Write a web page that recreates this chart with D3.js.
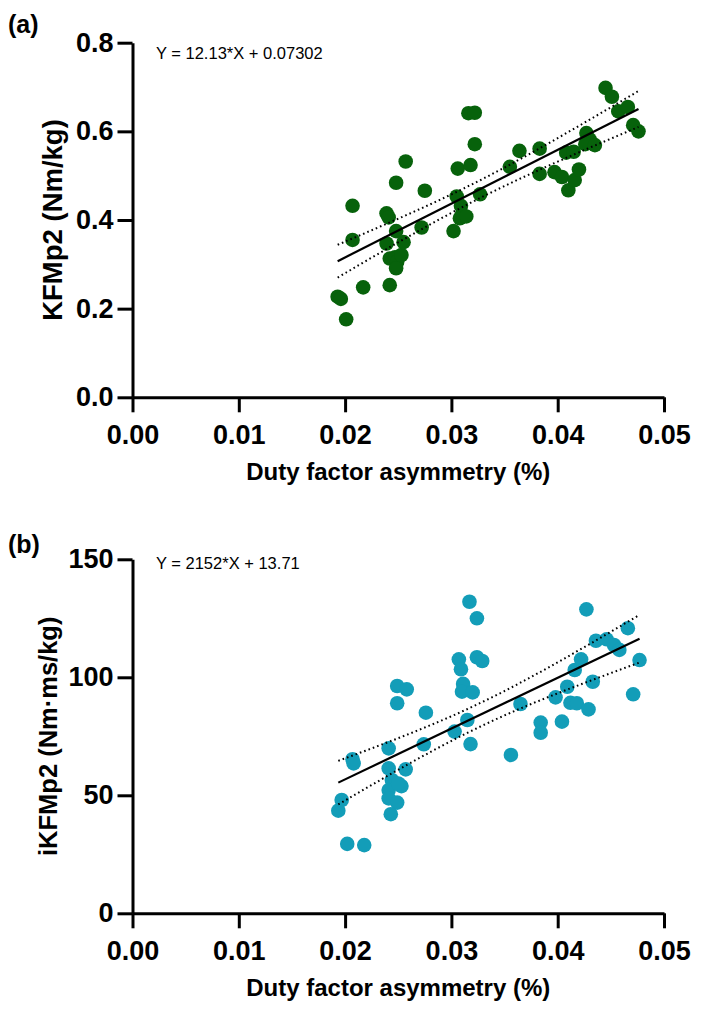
<!DOCTYPE html>
<html><head><meta charset="utf-8">
<script src="https://cdn.jsdelivr.net/npm/d3@7"></script>
<style>
html,body{margin:0;padding:0;background:#fff;}
svg{display:block;}
text{font-family:"Liberation Sans",Arial,sans-serif;}
</style></head>
<body>
<svg id="c" width="705" height="1012"></svg>
<script>
// ---- data ----
const xTicks = [0, 0.01, 0.02, 0.03, 0.04, 0.05];
const yTicksA = [0, 0.2, 0.4, 0.6, 0.8];
const yTicksB = [0, 50, 100, 150];

const xA = [0.0193,0.0196,0.0201,0.0207,0.0207,0.0217,0.0239,0.0241,0.0239,0.0242,0.0242,0.0248,0.0248,0.0247,0.0249,0.0248,0.0253,0.0255,0.0257,0.0275,0.0272,0.0302,0.0306,0.0305,0.0309,0.0310,0.0308,0.0314,0.0316,0.0322,0.0318,0.0322,0.0327,0.0355,0.0364,0.0383,0.0383,0.0397,0.0404,0.0408,0.0415,0.0410,0.0416,0.0420,0.0427,0.0430,0.0426,0.0435,0.0445,0.0451,0.0457,0.0466,0.0471,0.0476];
const yA = [0.227,0.222,0.176,0.432,0.355,0.248,0.415,0.406,0.347,0.313,0.253,0.484,0.375,0.316,0.306,0.291,0.321,0.350,0.532,0.466,0.383,0.375,0.516,0.453,0.432,0.412,0.404,0.408,0.641,0.642,0.524,0.571,0.458,0.520,0.556,0.561,0.504,0.508,0.497,0.552,0.554,0.467,0.490,0.514,0.596,0.582,0.571,0.569,0.698,0.678,0.645,0.655,0.614,0.600];

const xB = [0.01936,0.01968,0.0202,0.0218,0.0207,0.0208,0.0241,0.0241,0.0257,0.0244,0.0253,0.0241,0.0241,0.0249,0.0243,0.0249,0.0258,0.0249,0.0250,0.0276,0.0274,0.0303,0.0307,0.0309,0.0311,0.0310,0.0320,0.0315,0.0317,0.0318,0.0324,0.0324,0.0329,0.0356,0.0365,0.0384,0.0384,0.0398,0.0404,0.0409,0.0412,0.0418,0.0416,0.0422,0.0427,0.0429,0.0433,0.0436,0.0446,0.0453,0.0458,0.0466,0.0471,0.0477];
const yB = [43.5,48.0,29.4,28.9,65.3,63.5,69.9,61.4,61.0,56.5,53.9,52.2,48.7,46.9,42.0,96.3,94.9,89.0,55.0,85.0,71.6,77.0,107.6,103.4,97.2,93.9,93.6,81.9,132.0,71.7,125.0,108.5,106.9,67.1,88.7,80.8,76.5,91.5,81.2,96.0,89.2,89.0,103.1,107.6,128.8,86.4,98.1,115.5,116.1,113.7,111.6,120.8,92.8,107.3];

const fitA = {slope: 12.13, intercept: 0.07302};
const fitB = {slope: 2152, intercept: 13.71};

const panels = [
  {label:"(a)", xs:xA, ys:yA, fit:fitA, eq:"Y = 12.13*X + 0.07302", yTitle:"KFMp2 (Nm/kg)",
   yTicks:yTicksA, yFmt:d3.format(".1f"), yMax:0.8, color:"#07620b",
   top:42.7, bottom:397.3, labelY:33, eqY:59.3, yTitleX:62, yTitleSize:27.5},
  {label:"(b)", xs:xB, ys:yB, fit:fitB, eq:"Y = 2152*X + 13.71", yTitle:"iKFMp2 (Nm\u00b7ms/kg)",
   yTicks:yTicksB, yFmt:d3.format("d"), yMax:150, color:"#139db8",
   top:559.3, bottom:913.3, labelY:553, eqY:568.5, yTitleX:57, yTitleSize:25.5}
];

const svg = d3.select("#c");
const left = 132.5, right = 664;
const T975 = 2.007; // t critical value, df = 52

panels.forEach(p => {
  const x = d3.scaleLinear().domain([0, 0.05]).range([left, right]);
  const y = d3.scaleLinear().domain([0, p.yMax]).range([p.bottom, p.top]);
  const g = svg.append("g");

  // confidence band from data
  const n = p.xs.length;
  const xm = d3.mean(p.xs);
  const sxx = d3.sum(p.xs, v => (v - xm) * (v - xm));
  const sse = d3.sum(p.xs.map((v, i) => {
    const r = p.ys[i] - (p.fit.slope * v + p.fit.intercept); return r * r; }));
  const s = Math.sqrt(sse / (n - 2));
  const [x0, x1] = d3.extent(p.xs);
  const xs = d3.range(0, 101).map(i => x0 + (x1 - x0) * i / 100);
  const pred = v => p.fit.slope * v + p.fit.intercept;
  const half = v => T975 * s * Math.sqrt(1 / n + (v - xm) * (v - xm) / sxx);

  const line = d3.line().x(d => x(d[0])).y(d => y(d[1]));

  // points
  g.append("g").selectAll("circle").data(p.xs.map((v, i) => [v, p.ys[i]]))
    .join("circle").attr("cx", d => x(d[0])).attr("cy", d => y(d[1]))
    .attr("r", 7.3).attr("fill", p.color);

  // band
  g.append("path").datum(xs.map(v => [v, pred(v) + half(v)])).attr("d", line)
    .attr("fill", "none").attr("stroke", "#000").attr("stroke-width", 2)
    .attr("stroke-dasharray", "1.6,3");
  g.append("path").datum(xs.map(v => [v, pred(v) - half(v)])).attr("d", line)
    .attr("fill", "none").attr("stroke", "#000").attr("stroke-width", 2)
    .attr("stroke-dasharray", "1.6,3");
  // fit line
  g.append("path").datum([[x0, pred(x0)], [x1, pred(x1)]]).attr("d", line)
    .attr("fill", "none").attr("stroke", "#000").attr("stroke-width", 2.2);

  // axes
  const ax = g.append("g").attr("transform", `translate(0,${p.bottom})`)
    .call(d3.axisBottom(x).tickValues(xTicks).tickFormat(d3.format(".2f"))
      .tickSize(15).tickSizeOuter(0).tickPadding(13));
  const ay = g.append("g").attr("transform", `translate(${left},0)`)
    .call(d3.axisLeft(y).tickValues(p.yTicks).tickFormat(p.yFmt)
      .tickSize(15).tickSizeOuter(0).tickPadding(4));
  [ax, ay].forEach(a => {
    a.select(".domain").attr("stroke-width", 3).attr("stroke", "#000");
    a.selectAll(".tick line").attr("stroke-width", 3).attr("stroke", "#000");
    a.selectAll(".tick text").attr("font-size", 27).attr("font-weight", "bold")
      .attr("fill", "#000").style("font-family", '"Liberation Sans",Arial,sans-serif');
  });

  // equation
  g.append("text").attr("x", 156).attr("y", p.eqY).attr("font-size", 16.5)
    .text(p.eq);
  // panel label
  g.append("text").attr("x", 8).attr("y", p.labelY).attr("font-size", 25)
    .attr("font-weight", "bold").text(p.label);
  // x title
  g.append("text").attr("x", (left + right) / 2).attr("y", p.bottom + 83)
    .attr("text-anchor", "middle").attr("font-size", 24).attr("font-weight", "bold")
    .text("Duty factor asymmetry (%)");
  // y title
  g.append("text").attr("transform", `translate(${p.yTitleX},${(p.top + p.bottom) / 2}) rotate(-90)`)
    .attr("text-anchor", "middle").attr("font-size", p.yTitleSize).attr("font-weight", "bold")
    .text(p.yTitle);
});
</script>
</body></html>
